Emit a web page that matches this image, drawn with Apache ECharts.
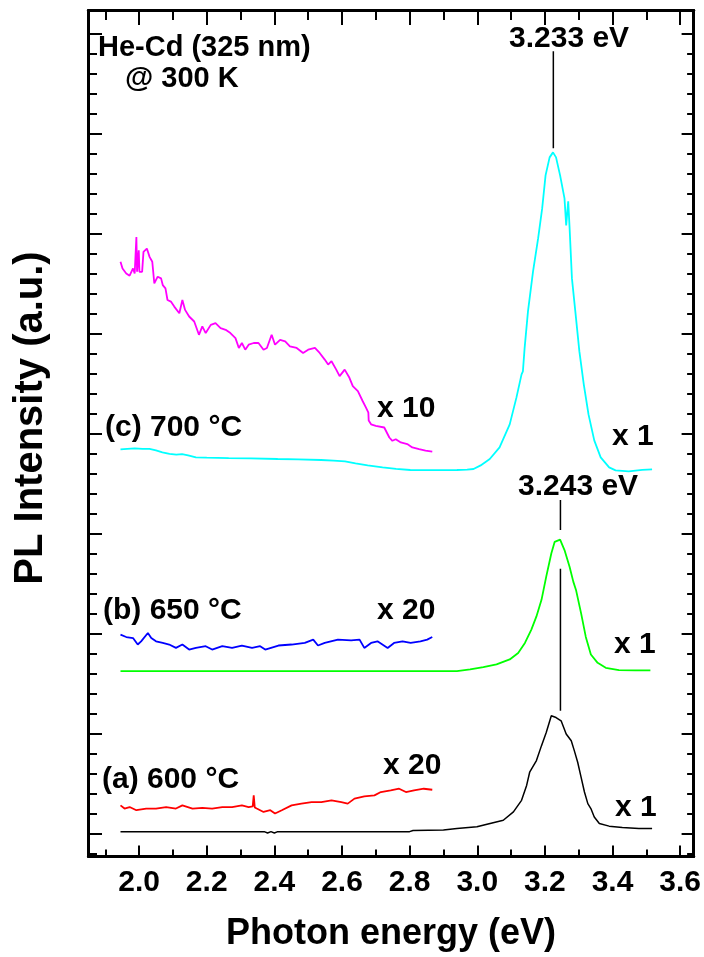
<!DOCTYPE html>
<html><head><meta charset="utf-8">
<script src="https://cdn.jsdelivr.net/npm/echarts@6/dist/echarts.min.js"></script>
<style>html,body{margin:0;padding:0;background:#fff}#c{width:704px;height:957px}</style>
</head><body><div id="c"></div>
<script>
// ---- axis ticks ----
const xMajorTicks = [2.0, 2.2, 2.4, 2.6, 2.8, 3.0, 3.2, 3.4, 3.6];
const xMinorTicks = [1.9, 2.1, 2.3, 2.5, 2.7, 2.9, 3.1, 3.3, 3.5];
const yMajorTicks = [0, 1, 2, 3, 4, 5, 6, 7, 8];
const yMinorTicks = [-0.2, 0.2, 0.4, 0.6, 0.8, 1.2, 1.4, 1.6, 1.8, 2.2, 2.4, 2.6, 2.8, 3.2, 3.4, 3.6, 3.8,
  4.2, 4.4, 4.6, 4.8, 5.2, 5.4, 5.6, 5.8, 6.2, 6.4, 6.6, 6.8, 7.2, 7.4, 7.6, 7.8];
const xRange = [1.8504, 3.6398];
const yRange = [-0.2256, 8.2286];

// ---- spectra (photon energy eV, intensity a.u. with vertical offsets) ----
const c700x1 = [[1.945,3.84],[1.965,3.845],[1.987,3.85],[2.01,3.845],[2.031,3.845],[2.05,3.83],[2.069,3.81],[2.09,3.795],
  [2.110,3.787],[2.127,3.793],[2.145,3.78],[2.168,3.76],[2.20,3.757],[2.265,3.753],[2.33,3.75],[2.41,3.744],[2.47,3.74],
  [2.538,3.734],[2.575,3.728],[2.609,3.721],[2.64,3.70],[2.676,3.681],[2.72,3.66],[2.76,3.645],[2.802,3.634],[2.87,3.632],
  [2.94,3.634],[2.97,3.638],[2.989,3.644],[3.01,3.68],[3.037,3.744],[3.066,3.86],[3.096,4.09],[3.116,4.36],[3.131,4.59],
  [3.135,4.62],[3.140,4.85],[3.150,5.22],[3.165,5.62],[3.180,5.95],[3.192,6.25],[3.202,6.58],[3.214,6.76],[3.224,6.81],
  [3.233,6.76],[3.245,6.58],[3.258,6.35],[3.263,6.08],[3.269,6.32],[3.273,6.06],[3.280,5.55],[3.290,5.22],[3.302,4.82],
  [3.315,4.49],[3.329,4.19],[3.346,3.93],[3.365,3.76],[3.390,3.66],[3.409,3.63],[3.448,3.62],[3.488,3.635],[3.517,3.64]];
const c700x10 = [[1.945,5.716],[1.951,5.649],[1.962,5.599],[1.972,5.577],[1.982,5.649],[1.987,5.599],[1.992,5.964],[1.994,5.616],
  [1.999,5.831],[2.001,5.616],[2.009,5.616],[2.013,5.815],[2.023,5.848],[2.031,5.765],[2.039,5.716],[2.045,5.500],[2.055,5.567],
  [2.065,5.550],[2.070,5.483],[2.078,5.450],[2.084,5.334],[2.094,5.318],[2.104,5.268],[2.119,5.202],[2.128,5.334],[2.136,5.235],
  [2.148,5.169],[2.163,5.119],[2.177,4.986],[2.187,5.070],[2.197,5.003],[2.212,5.085],[2.226,5.102],[2.241,5.053],[2.256,5.036],
  [2.270,5.003],[2.285,4.953],[2.295,4.854],[2.304,4.904],[2.314,4.837],[2.324,4.887],[2.339,4.904],[2.353,4.904],[2.368,4.837],
  [2.378,4.854],[2.392,4.986],[2.402,4.887],[2.417,4.936],[2.432,4.920],[2.446,4.871],[2.466,4.854],[2.485,4.804],[2.500,4.837],
  [2.520,4.854],[2.534,4.804],[2.549,4.738],[2.559,4.688],[2.569,4.722],[2.583,4.638],[2.593,4.573],[2.608,4.638],[2.622,4.556],
  [2.632,4.473],[2.647,4.423],[2.661,4.324],[2.671,4.257],[2.678,4.208],[2.679,4.128],[2.686,4.091],[2.700,4.076],[2.725,4.059],
  [2.740,3.959],[2.749,3.926],[2.759,3.942],[2.774,3.910],[2.793,3.893],[2.808,3.860],[2.828,3.843],[2.847,3.827],[2.867,3.817]];
const c650x1 = [[1.945,1.623],[2.3,1.623],[2.7,1.623],[2.94,1.623],[2.979,1.640],[3.018,1.663],[3.057,1.690],[3.096,1.740],
  [3.121,1.805],[3.141,1.905],[3.160,2.038],[3.175,2.170],[3.190,2.336],[3.204,2.568],[3.219,2.799],[3.229,2.916],[3.245,2.938],
  [3.258,2.833],[3.273,2.667],[3.284,2.518],[3.292,2.435],[3.307,2.203],[3.321,1.965],[3.336,1.789],[3.356,1.706],[3.380,1.656],
  [3.419,1.633],[3.468,1.630],[3.512,1.630]];
const c650x20 = [[1.945,1.988],[1.962,1.964],[1.982,1.954],[1.996,1.889],[2.006,1.921],[2.026,2.004],[2.036,1.954],[2.050,1.921],
  [2.070,1.905],[2.089,1.889],[2.109,1.855],[2.128,1.889],[2.148,1.839],[2.168,1.855],[2.197,1.872],[2.216,1.839],[2.246,1.872],
  [2.275,1.855],[2.304,1.879],[2.334,1.855],[2.358,1.872],[2.373,1.839],[2.412,1.879],[2.451,1.889],[2.490,1.905],[2.515,1.938],
  [2.529,1.879],[2.549,1.905],[2.588,1.938],[2.627,1.931],[2.652,1.938],[2.666,1.855],[2.686,1.905],[2.705,1.921],[2.735,1.855],
  [2.754,1.905],[2.779,1.921],[2.803,1.905],[2.832,1.921],[2.852,1.938],[2.867,1.964]];
const c600x1 = [[1.945,0.018],[2.2,0.018],[2.37,0.018],[2.38,0.005],[2.39,0.018],[2.40,0.005],[2.41,0.018],[2.80,0.018],
  [2.81,0.03],[2.90,0.035],[2.94,0.05],[2.999,0.066],[3.038,0.099],[3.077,0.132],[3.107,0.215],[3.131,0.331],[3.146,0.48],
  [3.155,0.612],[3.175,0.729],[3.190,0.878],[3.204,1.010],[3.219,1.176],[3.233,1.159],[3.248,1.126],[3.263,0.994],[3.278,0.927],
  [3.287,0.828],[3.297,0.712],[3.307,0.563],[3.317,0.414],[3.327,0.298],[3.336,0.249],[3.346,0.165],[3.361,0.099],[3.390,0.073],
  [3.429,0.060],[3.478,0.050],[3.517,0.050]];
const c600x20 = [[1.945,0.281],[1.957,0.249],[1.972,0.264],[1.992,0.232],[2.021,0.249],[2.050,0.249],[2.080,0.264],[2.109,0.249],
  [2.128,0.281],[2.158,0.249],[2.187,0.255],[2.216,0.249],[2.246,0.264],[2.275,0.264],[2.304,0.281],[2.324,0.264],[2.336,0.27],
  [2.339,0.381],[2.342,0.26],[2.348,0.249],[2.368,0.215],[2.388,0.232],[2.402,0.199],[2.422,0.232],[2.451,0.281],[2.480,0.298],
  [2.510,0.314],[2.539,0.314],[2.569,0.331],[2.598,0.314],[2.617,0.298],[2.637,0.348],[2.666,0.371],[2.696,0.381],[2.715,0.414],
  [2.744,0.430],[2.769,0.447],[2.789,0.414],[2.813,0.430],[2.842,0.447],[2.867,0.437]];
// peak marker lines
const peakLine700 = [[3.225, 6.85], [3.225, 7.82]];
const peakLine650a = [[3.246, 3.035], [3.246, 3.333]];
const peakLine650b = [[3.246, 1.226], [3.246, 2.647]];

const FONT = '"Liberation Sans", Arial, sans-serif';
const chart = echarts.init(document.getElementById('c'), null, {renderer: 'canvas'});

function xAx(pos, ticks, len, labels, name) {
  return {
    type: 'value', position: pos, min: xRange[0], max: xRange[1],
    axisLine: {show: true, onZero: false, lineStyle: {color: '#000', width: 3}},
    axisTick: {show: true, inside: true, length: len, customValues: ticks, lineStyle: {color: '#000', width: 2}},
    axisLabel: labels ? {show: true, customValues: xMajorTicks, margin: 12, formatter: v => v.toFixed(1),
      color: '#000', fontFamily: FONT, fontWeight: 'bold', fontSize: 30} : {show: false},
    splitLine: {show: false},
    name: name || '', nameLocation: 'middle', nameGap: 60,
    nameTextStyle: {color: '#000', fontFamily: FONT, fontWeight: 'bold', fontSize: 36}
  };
}
function yAx(pos, ticks, len) {
  return {
    type: 'value', position: pos, min: yRange[0], max: yRange[1],
    axisLine: {show: true, onZero: false, lineStyle: {color: '#000', width: 3}},
    axisTick: {show: true, inside: true, length: len, customValues: ticks, lineStyle: {color: '#000', width: 2}},
    axisLabel: {show: false},
    splitLine: {show: false}
  };
}
function line(data, color, w) {
  return {type: 'line', data: data, xAxisIndex: 0, yAxisIndex: 0, showSymbol: false, symbol: 'none',
    lineStyle: {color: color, width: w}, silent: true, animation: false};
}
function txt(t, x, y, size) {
  return {type: 'text', x: x, y: y, style: {text: t, fill: '#000', font: 'bold ' + size + 'px ' + FONT, verticalAlign: 'middle', align: 'left'}};
}

chart.setOption({
  animation: false,
  grid: {left: 88.5, right: 5.5, top: 10.5, bottom: 96, containLabel: false},
  xAxis: [
    xAx('bottom', xMajorTicks, 10.5, true, 'Photon energy (eV)'),
    xAx('bottom', xMinorTicks, 6.5, false),
    xAx('top', xMajorTicks, 14.5, false),
    xAx('top', xMinorTicks, 9.5, false)
  ],
  yAxis: [
    yAx('left', yMajorTicks, 13.5),
    yAx('left', yMinorTicks, 8.5),
    yAx('right', yMajorTicks, 12),
    yAx('right', yMinorTicks, 6.5)
  ],
  series: [
    line(c700x1, '#00ffff', 1.8),
    line(c700x10, '#ff00ff', 1.8),
    line(c650x1, '#00ff00', 1.8),
    line(c650x20, '#0000ff', 1.8),
    line(c600x1, '#000000', 1.5),
    line(c600x20, '#ff0000', 1.8),
    line(peakLine700, '#000000', 1.5),
    line(peakLine650a, '#000000', 1.5),
    line(peakLine650b, '#000000', 1.5)
  ],
  graphic: [
    {type: 'text', x: 31, y: 418, rotation: Math.PI / 2,
      style: {text: 'PL Intensity (a.u.)', fill: '#000', font: 'bold 40px ' + FONT, align: 'center', verticalAlign: 'middle'}},
    txt('He-Cd (325 nm)', 98, 48, 29),
    txt('@ 300 K', 125, 79, 29),
    txt('3.233 eV', 509, 39, 30),
    txt('3.243 eV', 518, 487, 30),
    txt('(c) 700 °C', 105, 428, 30),
    txt('x 10', 377, 409, 30),
    txt('x 1', 612, 437, 30),
    txt('(b) 650 °C', 103, 611, 30),
    txt('x 20', 377, 611, 30),
    txt('x 1', 614, 645, 30),
    txt('(a) 600 °C', 102, 780, 30),
    txt('x 20', 383, 766, 30),
    txt('x 1', 615, 808, 30)
  ]
});
</script></body></html>
